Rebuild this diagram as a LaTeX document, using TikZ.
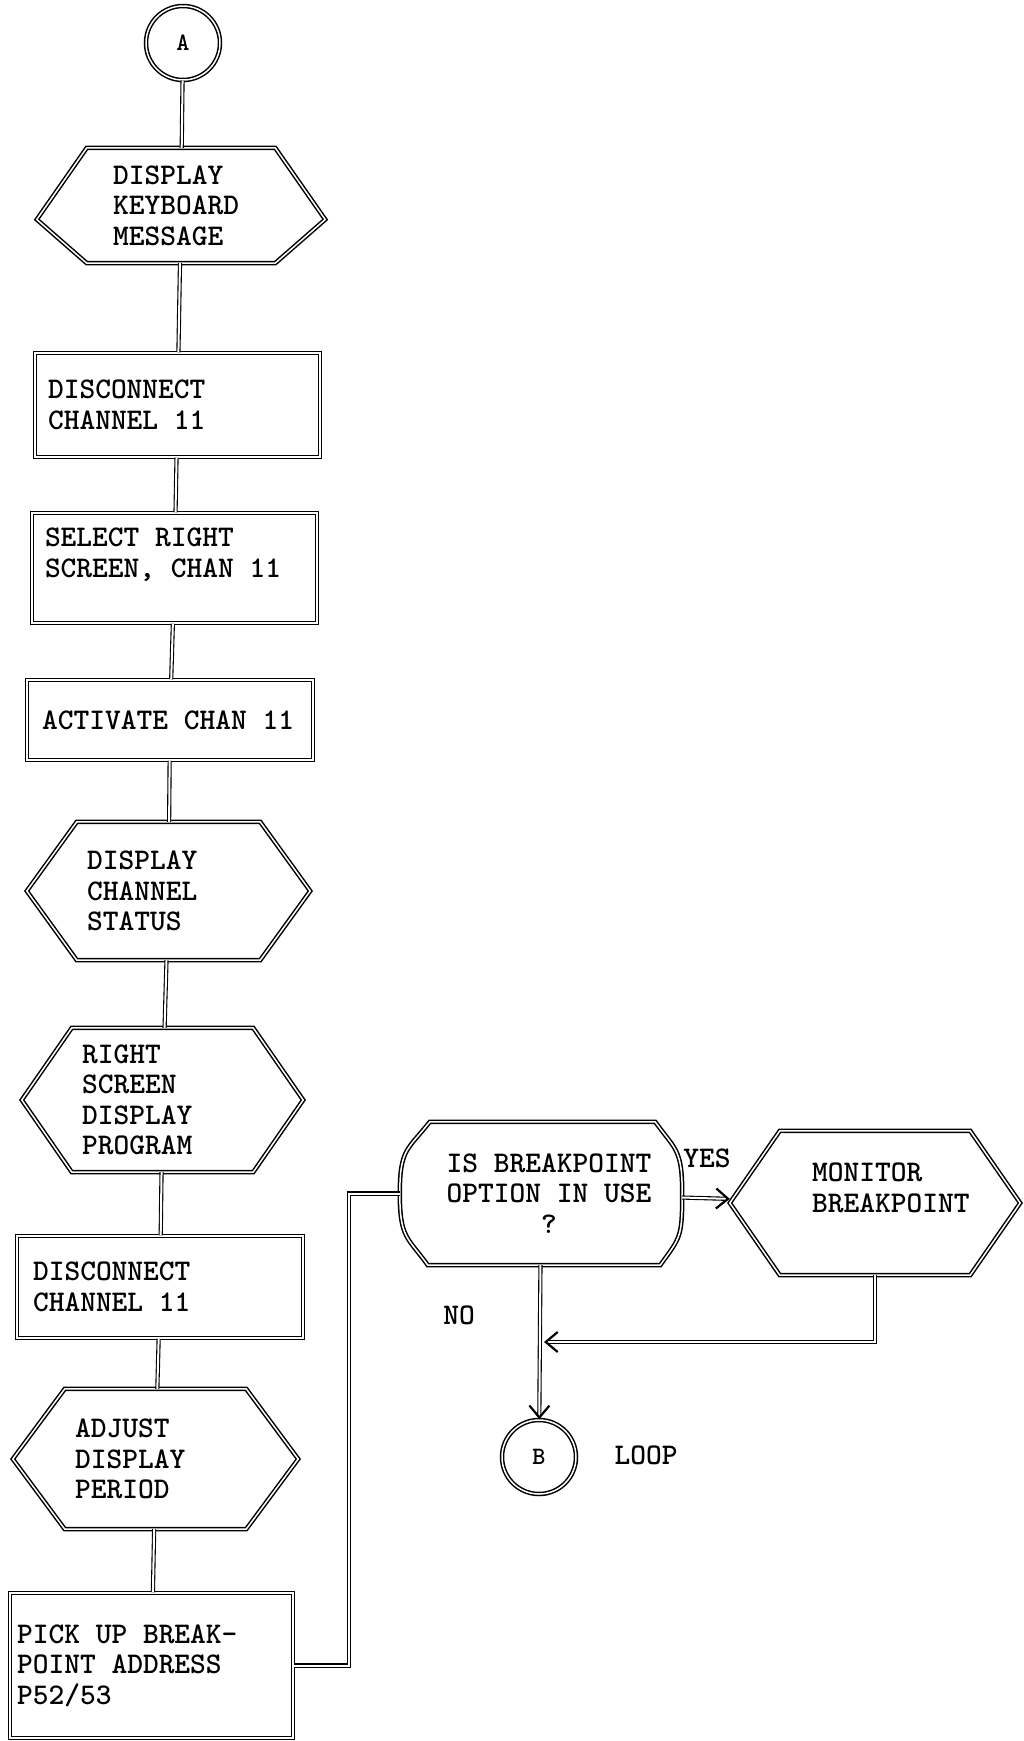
\documentclass[tikz,border=0pt]{standalone}
\usepackage{tikz}
\usetikzlibrary{arrows.meta}

\tikzset{
  outline/.style={draw, double, line width=1.5pt, double distance=1.5pt},
  flow/.style={double, line width=1.1pt, double distance=2pt},
  flowto/.style={flow, -{Straight Barb[length=12pt,width=20pt,line width=2.2pt]}},
  txt/.style={font=\fontsize{30}{30.5}\selectfont\ttfamily\bfseries},
  proc/.style={outline, txt, rectangle, inner sep=0pt, align=flush left},
  hexa/.style={txt, inner sep=0pt, align=flush left},
  decide/.style={txt, inner sep=0pt, align=flush center},
  conn/.style={outline, circle, inner sep=0pt, minimum size=74pt,
    font=\fontsize{25}{25}\selectfont\ttfamily\bfseries},
}

\newcommand{\hexline}[3]{%
  \draw[outline] ([xshift=#2]#1.north west) -- ([xshift=-#2]#1.north east)
    -- ([yshift=#3]#1.east) -- ([xshift=-#2]#1.south east)
    -- ([xshift=#2]#1.south west) -- ([yshift=#3]#1.west) -- cycle;}

\begin{document}
\begin{tikzpicture}[x=1pt, y=-1pt]
  \useasboundingbox (0,0) rectangle (1024,1741);

  \node[conn] (ca) at (183,43) {A};
  \node[hexa, minimum width=288pt, minimum height=115pt, text width=136pt]
    (kbd) at (181,205.5) {DISPLAY\\KEYBOARD\\MESSAGE};
  \hexline{kbd}{50pt}{-14pt}
  \node[proc, minimum width=285pt, minimum height=104pt, text width=259pt]
    (disc1) at (177.5,405) {DISCONNECT\\CHANNEL 11};
  \node[proc, minimum width=285pt, minimum height=110pt, text width=259pt]
    (sel) at (174.5,568) {SELECT RIGHT\\SCREEN, CHAN 11\\\mbox{}};
  \node[proc, minimum width=286pt, minimum height=80pt, text width=256pt]
    (act) at (170,720) {ACTIVATE CHAN 11};
  \node[hexa, minimum width=283pt, minimum height=138pt, text width=163pt]
    (stat) at (168.5,891) {DISPLAY\\CHANNEL\\STATUS};
  \hexline{stat}{50pt}{0pt}
  \node[hexa, minimum width=281pt, minimum height=144pt, text width=161pt]
    (prog) at (162.5,1100) {RIGHT\\SCREEN\\DISPLAY\\PROGRAM};
  \hexline{prog}{50pt}{0pt}
  \node[proc, minimum width=286pt, minimum height=102pt, text width=254pt]
    (disc2) at (160,1287) {DISCONNECT\\CHANNEL 11};
  \node[hexa, minimum width=285pt, minimum height=140pt, text width=161pt]
    (adj) at (155.5,1459) {ADJUST\\DISPLAY\\PERIOD};
  \hexline{adj}{52pt}{0pt}
  \node[proc, minimum width=283pt, minimum height=145pt, text width=269pt]
    (pick) at (151.5,1665.5) {PICK UP BREAK-\\POINT ADDRESS\\P52/53};

  \node[decide, minimum width=282pt, minimum height=143pt]
    (brk) at (541,1193.5) {\hspace*{16pt}IS BREAKPOINT\\\hspace*{16pt}OPTION IN USE\\\hspace*{16pt}?};
  \draw[outline] ([xshift=30pt]brk.north west) -- ([xshift=-27pt]brk.north east)
    .. controls +(20,28) and +(0,-45) .. (brk.east)
    .. controls +(0,45) and +(20,-28) .. ([xshift=-22pt]brk.south east)
    -- ([xshift=28pt]brk.south west)
    .. controls +(-20,-28) and +(0,45) .. (brk.west)
    .. controls +(0,-45) and +(-22,28) .. ([xshift=30pt]brk.north west) -- cycle;
  \node[hexa, minimum width=290pt, minimum height=144pt, text width=126pt]
    (mon) at (875,1203) {\mbox{MONITOR}\\\mbox{BREAKPOINT}\\\mbox{}};
  \hexline{mon}{50pt}{0pt}
  \node[conn] (cb) at (539,1457) {B};

  \node[txt] (yes) at (707,1158) {YES};
  \node[txt] (no) at (459,1315) {NO};
  \node[txt] (loop) at (646,1455) {LOOP};
  \coordinate (merge) at (544,1342);

  \foreach \u/\v in {ca/kbd, kbd/disc1, disc1/sel, sel/act, act/stat,
                     stat/prog, prog/disc2, disc2/adj, adj/pick}
    \draw[flow] (\u) -- (\v);
  \draw[flow] (pick.east) -- ++(55,0) |- (brk.west);
  \draw[flowto] (brk) -- (mon);
  \draw[flowto] (mon.south) |- (merge);
  \draw[flowto] (brk) -- (cb);
\end{tikzpicture}
\end{document}
